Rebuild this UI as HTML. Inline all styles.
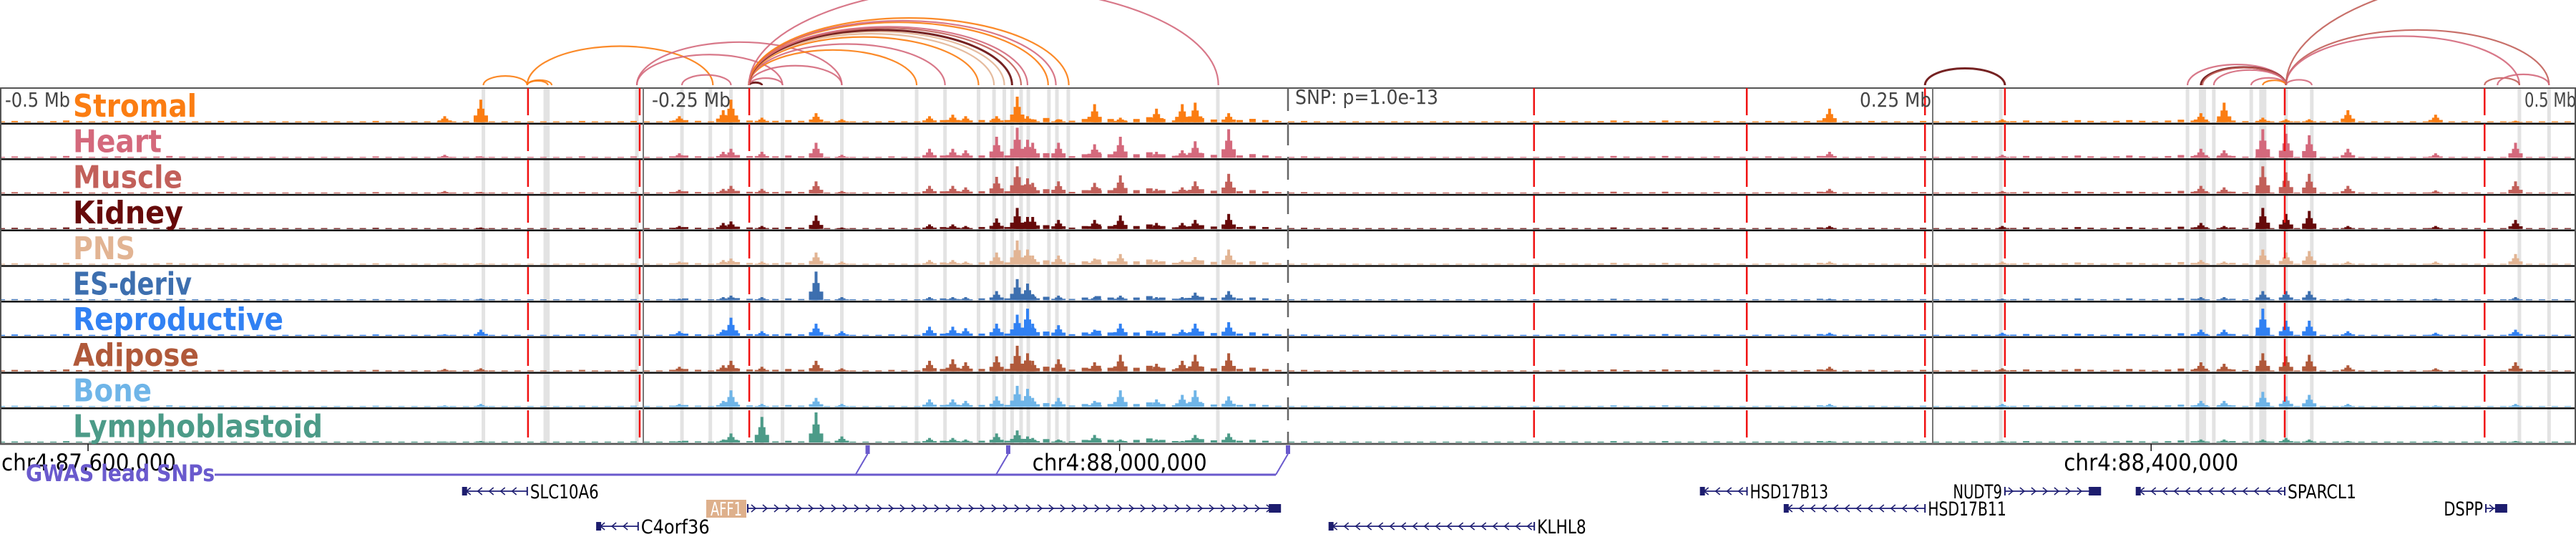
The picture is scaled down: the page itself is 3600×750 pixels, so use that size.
<!DOCTYPE html>
<html><head><meta charset="utf-8"><style>
html,body{margin:0;padding:0;background:#fff;}
svg{display:block;}
</style></head><body>
<svg id="fig" width="3600" height="750" viewBox="0 0 3600 750" xmlns="http://www.w3.org/2000/svg">
<g id="bands"></g>
<g id="tracks"></g>
<g id="vlines"></g>
<g id="arcs"></g>
<g id="labels"></g>
<g id="genes"></g>
</svg>
<script>
// ---- data ----
const tissues = ["Stromal","Heart","Muscle","Kidney","PNS","ES-deriv","Reproductive","Adipose","Bone","Lymphoblastoid"];
const tissueColors = ["#fb7d12","#d4697c","#c2605a","#660a0a","#e2b493","#3d6faf","#3181f3","#b0593a","#6fb5e8","#4c9b88"];
const labelWidths = [173,124,153,154,87,166,294,176,110,349];
const peakKb = [-327,-313,-236,-219,-216,-204,-183,-173,-139,-130,-125,-113,-105,-101,-99,-89,-75,-65,-51,-41,-36,-23,210,277,354,363,378,387,396,411,445,476];
const stromalH = [.2,.75,.2,.4,.75,.15,.3,.1,.2,.25,.2,.2,.85,.2,.1,.1,.6,.15,.45,.6,.65,.3,.45,.1,.3,.65,.15,.1,.1,.4,.25,.05];
const heartH   = [.1,.05,.15,.2,.3,.2,.5,.1,.3,.3,.25,.7,1.0,.6,.5,.5,.45,.7,.2,.25,.55,.95,.2,.1,.3,.25,.95,.8,.75,.3,.15,.5];
const muscleH  = [.08,.05,.12,.15,.25,.15,.4,.08,.25,.25,.2,.55,.9,.5,.35,.4,.35,.6,.15,.2,.4,.65,.15,.08,.25,.2,.9,.7,.65,.25,.1,.4];
const kidneyH  = [0,.05,.1,.2,.25,.1,.45,.05,.15,.15,.1,.35,.7,.4,.4,.3,.3,.45,.2,.2,.3,.5,.1,.1,.2,.1,.7,.5,.6,.1,.1,.3];
const pnsH     = [.05,.05,.1,.15,.2,.1,.4,.1,.15,.15,.1,.4,.8,.5,.3,.3,.2,.35,.15,.15,.25,.5,.1,.1,.15,.1,.5,.4,.45,.1,.1,.35];
const esH      = [.03,.05,.05,.1,.15,.1,.95,.1,.1,.1,.1,.3,.7,.55,.2,.15,.1,.15,.1,.1,.25,.3,.05,.05,.1,.1,.3,.3,.3,.05,.05,.1];
const reproH   = [.05,.2,.15,.2,.6,.15,.4,.15,.3,.3,.25,.4,.7,.9,.4,.35,.2,.4,.15,.2,.4,.45,.1,.1,.2,.2,.9,.5,.5,.15,.1,.2];
const adiposeH = [.08,.1,.15,.2,.35,.15,.35,.1,.35,.4,.3,.5,.85,.6,.35,.4,.3,.55,.25,.35,.55,.6,.15,.1,.3,.25,.6,.5,.55,.2,.1,.3];
const boneH    = [.05,.1,.1,.2,.55,.1,.3,.1,.25,.25,.2,.35,.7,.6,.3,.3,.2,.55,.25,.4,.55,.35,.1,.1,.2,.2,.5,.35,.4,.1,.05,.1];
const lymphH   = [.03,.05,.05,.1,.3,.85,1.0,.2,.15,.15,.1,.3,.4,.2,.15,.1,.25,.1,.1,.05,.25,.3,.05,.05,.1,.1,.1,.15,.1,.05,.05,.05];
const bgLevels = [.03,.04,.03,.04,.03,.02,.02,.03,.02,.03,.02,.03,.03,.05,.06,.05,.02,.03,.05,.08,.1,.12,.12,.1,.08,.03,.02,.02,.02,.02,.03,.04,.04,.03,.03,.04,.03,.03,.03,.04,.05,.05,.06,.04,.03,.02,.02,.02,.02,.02];
const bandKb = [-312,-288,-287,-252.5,-235,-224,-216,-204,-196,-173,-144,-133,-120,-114,-110,-107,-103.5,-100.7,-92.7,-89.6,-85.2,-27.2,276.4,348.8,354.6,359,373.5,378,387,397,477.5,489];
const redKb = [-294.7,-251.4,-208.9,95.4,177.9,247,278,386.5,464];
const arcFromKb = [-312,-295,-295,-295,-252.5,-252.5,-235,-209,-209,-209,-209,-209,-209,-209,-209,-209,-209,-209,-209,-209,-209,-209,247,348.8,354,354.6,359,373.5,378,387,387,387,387,464,469];
const arcToKb   = [-295,-223,-287,-285.5,-173,-196,-216,-204,-196,-173,-144,-133,-120,-114,-110,-107,-103.5,-101,-93,-90,-85,-27,278,387,387,387,387,387,387,397,489,477.5,600,477.5,489];
const arcTissue = [0,0,0,0,1,1,1,3,1,1,0,1,0,4,4,3,2,1,0,1,0,1,3,1,3,2,1,1,0,1,2,1,2,2,1];
const genes = ["SLC10A6","AFF1","C4orf36","KLHL8","HSD17B13","HSD17B11","NUDT9","SPARCL1","DSPP"];
const geneStartKb = [-320,-209.5,-268,16,160,192.5,278,329,464.5];
const geneEndKb   = [-295,-3,-252,95.5,178,247,315,386.5,472.5];
const geneStrand  = [-1,1,-1,-1,-1,-1,1,-1,1];
const geneRow     = [0,1,2,2,0,1,0,0,1];
const gwasKb = [-163,-108.5,0];
const tickKb = [-465.3,-65.3,334.7];
const tickLabels = ["chr4:87,600,000","chr4:88,000,000","chr4:88,400,000"];
const distKb = [-500,-250,250,500];
const distLabels = ["-0.5 Mb","-0.25 Mb","0.25 Mb","0.5 Mb"];
const heights = [stromalH,heartH,muscleH,kidneyH,pnsH,esH,reproH,adiposeH,boneH,lymphH];
const bgScale = [1,1.1,1,0.9,1,0.8,1,1.1,0.9,0.8];

// ---- scales ----
const NS="http://www.w3.org/2000/svg";
const X = kb => 1800 + kb*3.604;
const TOP=123, TH=49.7, MAXH=42;
const trackTop = i => TOP + i*TH;
function mk(tag, attrs, parent){const e=document.createElementNS(NS,tag);for(const k in attrs)e.setAttribute(k,attrs[k]);parent.appendChild(e);return e;}
const G = id => document.getElementById(id);

bandKb.forEach((kb,i)=>{
  const wide = (i===24||i===27)?10:5;
  const r = mk('rect',{x:X(kb)-wide/2,y:TOP,width:wide,height:TH*10,fill:'#e3e3e3'},G('bands'));
  
  
});

tissues.forEach((t,i)=>{
  const g = mk('g',{},G('tracks'));
  
  
  const base = trackTop(i)+TH-2;
  const col = tissueColors[i];
  bgLevels.forEach((v,b)=>{
    const x0 = X(-500 + b*20);
    for(let k=0;k<4;k++){
      const h = Math.max(1.2, v*bgScale[i]*MAXH*(k===1?1.4:(k===3?0.5:0.9)));
      const r = mk('rect',{x:x0+k*18,y:base-h,width:9,height:h,fill:col},g);
      
      
    }
  });
  peakKb.forEach((kb,p)=>{
    const v = heights[i][p];
    const h = v*MAXH;
    const cx = X(kb);
    const s = mk('rect',{x:cx-10,y:base-h*0.3,width:20,height:h*0.3,fill:col},g);
    
    
    const s2 = mk('rect',{x:cx-5,y:base-h*0.6,width:10,height:h*0.6,fill:col},g);
    
    
    const r = mk('rect',{x:cx-2,y:base-h,width:4,height:h,fill:col},g);
    
    
  });
  const ln = mk('line',{x1:0,x2:3600,y1:trackTop(i)+TH,y2:trackTop(i)+TH,stroke:'#111','stroke-width':2.5},g);
  
  
});
const fr = mk('rect',{x:1,y:TOP,width:3598,height:TH*10,fill:'none',stroke:'#555','stroke-width':2},G('tracks'));



[-250,250].forEach(kb=>{
  const l = mk('line',{x1:X(kb),x2:X(kb),y1:TOP,y2:TOP+TH*10,stroke:'#777','stroke-width':2},G('vlines'));
  
  
});
const snpL = mk('line',{x1:X(0),x2:X(0),y1:TOP,y2:TOP+TH*10,stroke:'#666','stroke-width':2.5,'stroke-dasharray':'32 16'},G('vlines'));


redKb.forEach(kb=>{
  const l = mk('line',{x1:X(kb),x2:X(kb),y1:TOP,y2:TOP+TH*10,stroke:'#f01010','stroke-width':2.5,'stroke-dasharray':'38 12'},G('vlines'));
  
  
});

distKb.forEach((kb,i)=>{
  const left = kb<0;
  const t = mk('text',{x:left?X(kb)+(kb===-500?9:12):X(kb)-2,y:149,'font-family':'DejaVu Sans, Liberation Sans, sans-serif','font-size':28,fill:'#444','text-anchor':left?'start':'end',textLength:kb===-500?91:(kb===-250?110:(kb===250?100:72)),lengthAdjust:'spacingAndGlyphs'},G('labels'));
  t.textContent = distLabels[i];
  
  
});
const snpT = mk('text',{x:1810,y:145,'font-family':'DejaVu Sans, Liberation Sans, sans-serif','font-size':28,fill:'#444',textLength:200,lengthAdjust:'spacingAndGlyphs'},G('labels'));
snpT.textContent='SNP: p=1.0e-13';



tissues.forEach((t,i)=>{
  const e = mk('text',{x:102,y:trackTop(i)+40,'font-family':'DejaVu Sans, Liberation Sans, sans-serif','font-weight':'bold','font-size':44,fill:tissueColors[i],textLength:labelWidths[i],lengthAdjust:'spacingAndGlyphs'},G('labels'));
  e.textContent=t;
  
  
});

const AY=119;
arcFromKb.forEach((a,i)=>{
  const x1=X(a), x2=X(arcToKb[i]);
  const rx=Math.abs(x2-x1)/2, ry=rx*0.42;
  const p = mk('path',{d:`M${x1},${AY} A${rx},${ry} 0 0 1 ${x2},${AY}`,fill:'none',stroke:tissueColors[arcTissue[i]],'stroke-width':arcTissue[i]===3?3:2.2,opacity:0.9},G('arcs'));
  
  
});

tickKb.forEach((kb,i)=>{
  const l = mk('line',{x1:X(kb),x2:X(kb),y1:TOP+TH*10,y2:630,stroke:'#111','stroke-width':1.5},G('genes'));
  
  
  const cx = Math.max(124, X(kb));
  const t = mk('text',{x:cx,y:657,'text-anchor':'middle','font-family':'DejaVu Sans, Liberation Sans, sans-serif','font-size':32,fill:'#000',textLength:244,lengthAdjust:'spacingAndGlyphs'},G('genes'));
  t.textContent=tickLabels[i];
  
  
});

const gcol='#6a5acd';
const gl = mk('line',{x1:300,x2:X(gwasKb[gwasKb.length-1])-17,y1:663,y2:663,stroke:gcol,'stroke-width':3},G('genes'));


gwasKb.forEach(kb=>{
  const x=X(kb);
  const r = mk('rect',{x:x-3,y:622,width:6,height:12,fill:gcol},G('genes'));
  
  
  const d = mk('line',{x1:x,y1:634,x2:x-17,y2:663,stroke:gcol,'stroke-width':2},G('genes'));
  
  
});
const gt = mk('text',{x:36,y:672,'font-family':'DejaVu Sans, Liberation Sans, sans-serif','font-weight':'bold','font-size':32,fill:gcol,textLength:264,lengthAdjust:'spacingAndGlyphs'},G('genes'));
gt.textContent='GWAS lead SNPs';



const rowY=[686,710,735];
const gnc='#1d1d6e';
genes.forEach((name,i)=>{
  const g = mk('g',{},G('genes'));
  
  
  const x1=X(geneStartKb[i]), x2=X(geneEndKb[i]), y=rowY[geneRow[i]], s=geneStrand[i];
  mk('line',{x1:x1,x2:x2,y1:y,y2:y,stroke:'#3a3a8a','stroke-width':2},g);
  for(let x=x1+8;x<x2-6;x+=16){
    const d = s>0?`M${x-3},${y-5} L${x+3},${y} L${x-3},${y+5}`:`M${x+3},${y-5} L${x-3},${y} L${x+3},${y+5}`;
    mk('path',{d:d,fill:'none',stroke:gnc,'stroke-width':1.5},g);
  }
  if(s>0) mk('rect',{x:x2-16,y:y-6,width:16,height:12,fill:gnc},g);
  else mk('rect',{x:x1,y:y-6,width:6,height:12,fill:gnc},g);
  mk('line',{x1:x1,x2:x1,y1:y-6,y2:y+6,stroke:gnc,'stroke-width':2},g);
  mk('line',{x1:x2,x2:x2,y1:y-6,y2:y+6,stroke:gnc,'stroke-width':2},g);
  const labelLeft = s>0;
  const tw = name.length*13.7;
  if(name==='AFF1'){
    mk('rect',{x:x1-58,y:y-12,width:56,height:25,fill:'#deb08c'},g);
    const t=mk('text',{x:x1-30,y:y+10,'text-anchor':'middle','font-family':'DejaVu Sans, Liberation Sans, sans-serif','font-size':26,fill:'#fff',textLength:44,lengthAdjust:'spacingAndGlyphs'},g);
    t.textContent=name;
  } else {
    const t=mk('text',{x:labelLeft?x1-4:x2+4,y:y+10,'text-anchor':labelLeft?'end':'start','font-family':'DejaVu Sans, Liberation Sans, sans-serif','font-size':27,fill:'#000',textLength:tw,lengthAdjust:'spacingAndGlyphs'},g);
    t.textContent=name;
  }
});
</script>
</body></html>
